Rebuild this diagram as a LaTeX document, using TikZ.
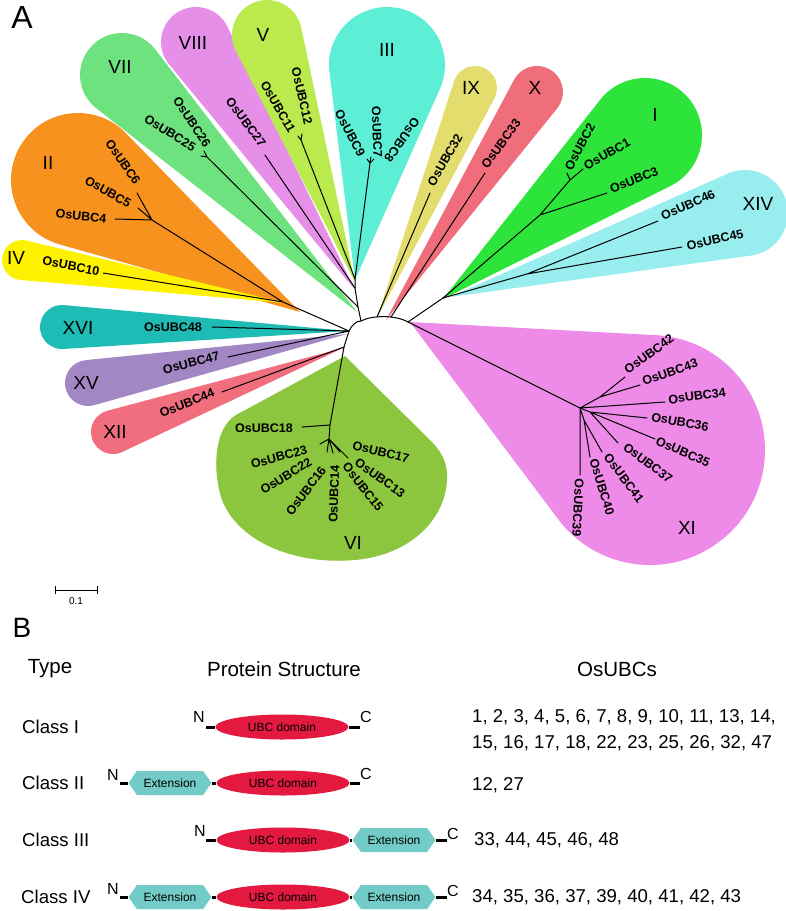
\documentclass[tikz,border=0pt]{standalone}
\usepackage{fontspec}
\setmainfont{Liberation Sans}
\usetikzlibrary{calc,shapes.geometric,shapes.symbols}

\definecolor{cI}{RGB}{45,228,59}
\definecolor{cII}{RGB}{247,146,30}
\definecolor{cIII}{RGB}{93,239,213}
\definecolor{cIV}{RGB}{255,242,0}
\definecolor{cV}{RGB}{187,234,78}
\definecolor{cVI}{RGB}{140,197,62}
\definecolor{cVII}{RGB}{110,226,126}
\definecolor{cVIII}{RGB}{229,143,232}
\definecolor{cIX}{RGB}{227,221,110}
\definecolor{cX}{RGB}{240,110,124}
\definecolor{cXI}{RGB}{238,139,232}
\definecolor{cXII}{RGB}{240,110,126}
\definecolor{cXIV}{RGB}{152,238,238}
\definecolor{cXV}{RGB}{163,135,197}
\definecolor{cXVI}{RGB}{30,188,180}
\definecolor{ubcred}{RGB}{227,25,64}
\definecolor{extteal}{RGB}{114,203,198}

% teardrop: colour, apex, centre of round end, radius
\newcommand{\cladeblob}[4]{%
  \fill[#1] let \p1=(#2), \p2=(#3),
    \n1={atan2(\y1-\y2,\x1-\x2)}, \n2={veclen(\x1-\x2,\y1-\y2)},
    \n3={acos(#4/\n2)}, \n4={\n1+\n3}, \n5={\n1-\n3+360} in
    (\p1) -- ($(\p2)+(\n4:#4pt)$)
    arc[start angle=\n4, end angle=\n5, radius=#4pt] -- cycle;}

\begin{document}
\begin{tikzpicture}[
			x=1pt, y=-1pt,
			every node/.style={inner sep=0pt},
			leaf/.style={font=\fontsize{12.5}{14}\selectfont\bfseries},
			grp/.style={font=\fontsize{19}{22}\selectfont},
			hd/.style={font=\fontsize{20.5}{24}\selectfont},
			txt/.style={font=\fontsize{18.6}{22}\selectfont},
			term/.style={font=\fontsize{16}{18}\selectfont},
			branch/.style={line width=1pt, line cap=round, line join=round},
			stub/.style={line width=3pt},
			ubc/.style={ellipse, fill=ubcred, minimum width=133pt, minimum height=25pt, font=\fontsize{12}{14}\selectfont},
			ext/.style={signal, signal to=west and east, signal pointer angle=110, fill=extteal, minimum width=83pt, minimum height=24pt, font=\fontsize{12}{14}\selectfont}
			]
			\useasboundingbox (0,0) rectangle (786,911);
			
			% A: clades
			\cladeblob{cII}{300,312}{78,180}{67}
			\cladeblob{cIV}{285,303}{22,260}{20}
			\cladeblob{cXVI}{348,331}{62,327}{22}
			\cladeblob{cXV}{347,334}{88,383}{23}
			\cladeblob{cXII}{343,348}{113,432}{22}
			\cladeblob{cVII}{357,312}{122,75}{42}
			\cladeblob{cVIII}{355,290}{196,42}{35}
			\cladeblob{cV}{355,282}{267,35}{35}
			\cladeblob{cIII}{355,280}{387,65}{58}
			\cladeblob{cIX}{377,318}{475,88}{22}
			\cladeblob{cX}{386,320}{537,92}{26}
			\cladeblob{cI}{443,299}{645,135}{57}
			\cladeblob{cXIV}{450,297}{745,213}{43}
			\cladeblob{cXI}{410,322}{650,450}{115}
			\fill[cVI] (345,356) -- (236,415) .. controls (214,428) and (212,470) .. (222,500)
				.. controls (240,545) and (300,565) .. (355,560)
				.. controls (410,555) and (445,520) .. (447,480)
				.. controls (448,460) and (440,450) .. (428,438) -- cycle;
			
			% tree
			\coordinate (r0) at (361,321);
			\coordinate (nIX) at (377,317);
			\coordinate (nX) at (391,317);
			\coordinate (r1) at (408,322);
			\coordinate (nL1) at (349,331);
			\coordinate (nL2) at (344,347);
			\coordinate (nVII) at (358,307);
			\coordinate (nVIII) at (355,288);
			\coordinate (nA) at (355,279);
			\coordinate (nVIIb) at (207,157);
			\coordinate (t26) at (204,151);
			\coordinate (t25) at (201,156);
			\coordinate (t27) at (265,155);
			\coordinate (nVb) at (301,140);
			\coordinate (t12) at (302,134);
			\coordinate (t11) at (298,136);
			\coordinate (nIIIb) at (370,163);
			\coordinate (t9) at (367,159);
			\coordinate (t7) at (371,157);
			\coordinate (t8) at (374,159);
			\coordinate (t32) at (430,193);
			\coordinate (t33) at (485,173);
			\coordinate (nIXIV) at (443,298);
			\coordinate (nI) at (540,215);
			\coordinate (nI2) at (570,180);
			\coordinate (t2) at (567,173);
			\coordinate (t1) at (583,169);
			\coordinate (t3) at (607,193);
			\coordinate (nXIV) at (527,274);
			\coordinate (t46) at (658,221);
			\coordinate (t45) at (682,247);
			\coordinate (nXI) at (580,408);
			\coordinate (nXIa) at (600,397);
			\coordinate (t42) at (625,377);
			\coordinate (t43) at (640,385);
			\coordinate (t34) at (665,402);
			\coordinate (nXIb) at (590,412);
			\coordinate (t36) at (647,418);
			\coordinate (t35) at (655,439);
			\coordinate (t37) at (618,443);
			\coordinate (nXIc) at (584,420);
			\coordinate (t41) at (602,452);
			\coordinate (t40) at (590,457);
			\coordinate (t39) at (580,475);
			\coordinate (nIIIV) at (283,302);
			\coordinate (t10) at (103,273);
			\coordinate (nII) at (152,220);
			\coordinate (t4) at (115,219);
			\coordinate (t5) at (138,208);
			\coordinate (t6) at (137,193);
			\coordinate (t48) at (212,327);
			\coordinate (t47) at (228,357);
			\coordinate (t44) at (222,392);
			\coordinate (nVI) at (330,425);
			\coordinate (t18) at (302,427);
			\coordinate (nVI2) at (329,439);
			\coordinate (t23) at (320,444);
			\coordinate (t16) at (327,452);
			\coordinate (t14) at (333,453);
			\coordinate (t15) at (340,452);
			\coordinate (t13) at (348,458);
			
			\draw[branch] (nL2) -- (nL1) .. controls (352,325) and (356,321) .. (r0)
				.. controls (372,315) and (396,315) .. (r1);
			\draw[branch] (r0) -- (nVII) -- (nVIII) -- (nA) -- (nIIIb);
			\draw[branch] (nVII) -- (nVIIb) -- (t26) (nVIIb) -- (t25);
			\draw[branch] (nVIII) -- (t27);
			\draw[branch] (nA) -- (nVb) -- (t12) (nVb) -- (t11);
			\draw[branch] (nIIIb) -- (t9) (nIIIb) -- (t7) (nIIIb) -- (t8);
			\draw[branch] (nIX) -- (t32);
			\draw[branch] (nX) -- (t33);
			\draw[branch] (r1) -- (nIXIV) -- (nI) -- (nI2) -- (t2) (nI2) -- (t1) (nI) -- (t3);
			\draw[branch] (nIXIV) -- (nXIV) -- (t46) (nXIV) -- (t45);
			\draw[branch] (r1) -- (nXI) -- (nXIa) -- (t42) (nXIa) -- (t43) (nXI) -- (t34);
			\draw[branch] (nXI) -- (nXIb) -- (t36) (nXIb) -- (t35) (nXIb) -- (t37);
			\draw[branch] (nXI) -- (nXIc) -- (t41) (nXIc) -- (t40) (nXI) -- (t39);
			\draw[branch] (nL1) -- (nIIIV) -- (t10) (nIIIV) -- (nII) -- (t4) (nII) -- (t5) (nII) -- (t6);
			\draw[branch] (nL1) -- (t48) (nL1) -- (t47) (nL2) -- (t44);
			\draw[branch] (nL2) -- (nVI) -- (t18) (nVI) -- (nVI2) -- (t23) (nVI2) -- (t16)
				(nVI2) -- (t14) (nVI2) -- (t15) (nVI2) -- (t13);
			
			% leaf labels
			\foreach \n/\x/\y/\a in {26/192/122/-57, 25/170/133/-32, 6/123/162/-55, 5/108/192/-30,
				4/81/216/-6, 27/246/122/-53, 11/278/107/-60, 12/302/96/-77, 9/350/133/-62,
				7/377/132/-88, 8/402/140/-126, 32/445/160/60, 33/501/144/54, 2/580/147/62,
				1/607/154/29, 3/634/180/22, 46/688/205/24, 45/715/240/13, 10/71/266/-11,
				48/173/327/0, 47/191/363/14, 44/187/403/22, 18/264/428/0, 23/279/457/15,
				22/286/476/32, 16/306/491/53, 14/334/494/88, 15/363/487/-52, 13/380/478/-35,
				17/381/452/-14, 42/649/354/36, 43/670/372/19, 34/697/396/8, 36/680/422/-10,
				35/683/452/-24, 37/648/463/-37, 41/624/478/-53, 40/602/487/-73, 39/578/508/-93}
			{
				\node[leaf, rotate=\a] (l\n) at (\x,\y) {OsUBC\n};
			}
			
			% group labels
			\foreach \g/\x/\y in {VII/120/67, VIII/193/43, V/263/35, III/387/50, IX/471/88,
				X/535/88, I/655/115, XIV/758/204, II/48/163, IV/16/258, XVI/78/328,
				XV/86/383, XII/115/432, VI/353/543, XI/687/528}
			{
				\node[grp] (g\g) at (\x,\y) {\g};
			}
			
			\node[font=\fontsize{32}{34}\selectfont] (panA) at (22,17) {A};
			
			% scale bar
			\coordinate (sb1) at (55,590);
			\coordinate (sb2) at (97,590);
			\draw[line width=0.8pt] (sb1) -- (sb2);
			\draw[line width=0.8pt] ($(sb1)+(0,-4)$) -- ($(sb1)+(0,4)$) ($(sb2)+(0,-4)$) -- ($(sb2)+(0,4)$);
			\node[font=\fontsize{10}{12}\selectfont] (sbl) at (76,601) {0.1};
			
			% B: classes
			\node[font=\fontsize{28}{30}\selectfont] (panB) at (22,628) {B};
			\node[hd] (hType) at (50,669) {Type};
			\node[hd] (hProt) at (284,669) {Protein Structure};
			\node[hd] (hOs) at (617,669) {OsUBCs};
			
			\node[txt, anchor=west] (k1) at (22,727) {Class I};
			\node[txt, anchor=west] (k2) at (22,783) {Class II};
			\node[txt, anchor=west] (k3) at (22,840) {Class III};
			\node[txt, anchor=west] (k4) at (21,897) {Class IV};
			
			% Class I
			\node[ubc] (u1) at (282,727) {UBC domain};
			\coordinate (n1) at (206,727);
			\coordinate (c1) at (360,727);
			\draw[stub] (n1) -- (u1.west);
			\draw[stub] (u1.east) -- (c1);
			\node[term] (N1) at (199,717) {N};
			\node[term] (C1) at (366,717) {C};
			
			% Class II
			\node[ext] (e2) at (170,783) {Extension};
			\node[ubc] (u2) at (283,783) {UBC domain};
			\coordinate (n2) at (120,783);
			\coordinate (c2) at (360,783);
			\draw[stub] (n2) -- (e2.west);
			\draw[stub] (e2.east) -- (u2.west);
			\draw[stub] (u2.east) -- (c2);
			\node[term] (N2) at (113,775) {N};
			\node[term] (C2) at (366,774) {C};
			
			% Class III
			\node[ubc] (u3) at (283,840) {UBC domain};
			\node[ext] (e3) at (394,840) {Extension};
			\coordinate (n3) at (206,840);
			\coordinate (c3) at (447,840);
			\draw[stub] (n3) -- (u3.west);
			\draw[stub] (u3.east) -- (e3.west);
			\draw[stub] (e3.east) -- (c3);
			\node[term] (N3) at (200,831) {N};
			\node[term] (C3) at (453,834) {C};
			
			% Class IV
			\node[ext] (e4a) at (170,897) {Extension};
			\node[ubc] (u4) at (283,897) {UBC domain};
			\node[ext] (e4b) at (394,897) {Extension};
			\coordinate (n4) at (120,897);
			\coordinate (c4) at (447,897);
			\draw[stub] (n4) -- (e4a.west);
			\draw[stub] (e4a.east) -- (u4.west);
			\draw[stub] (u4.east) -- (e4b.west);
			\draw[stub] (e4b.east) -- (c4);
			\node[term] (N4) at (113,889) {N};
			\node[term] (C4) at (453,891) {C};
			
			% member lists
			\node[txt, anchor=west] (o1a) at (472,717) {1, 2, 3, 4, 5, 6, 7, 8, 9, 10, 11, 13, 14,};
			\node[txt, anchor=west] (o1b) at (472,743) {15, 16, 17, 18, 22, 23, 25, 26, 32, 47};
			\node[txt, anchor=west] (o2) at (472,785) {12, 27};
			\node[txt, anchor=west] (o3) at (474,840) {33, 44, 45, 46, 48};
			\node[txt, anchor=west] (o4) at (472,897) {34, 35, 36, 37, 39, 40, 41, 42, 43};
		\end{tikzpicture}
\end{document}
